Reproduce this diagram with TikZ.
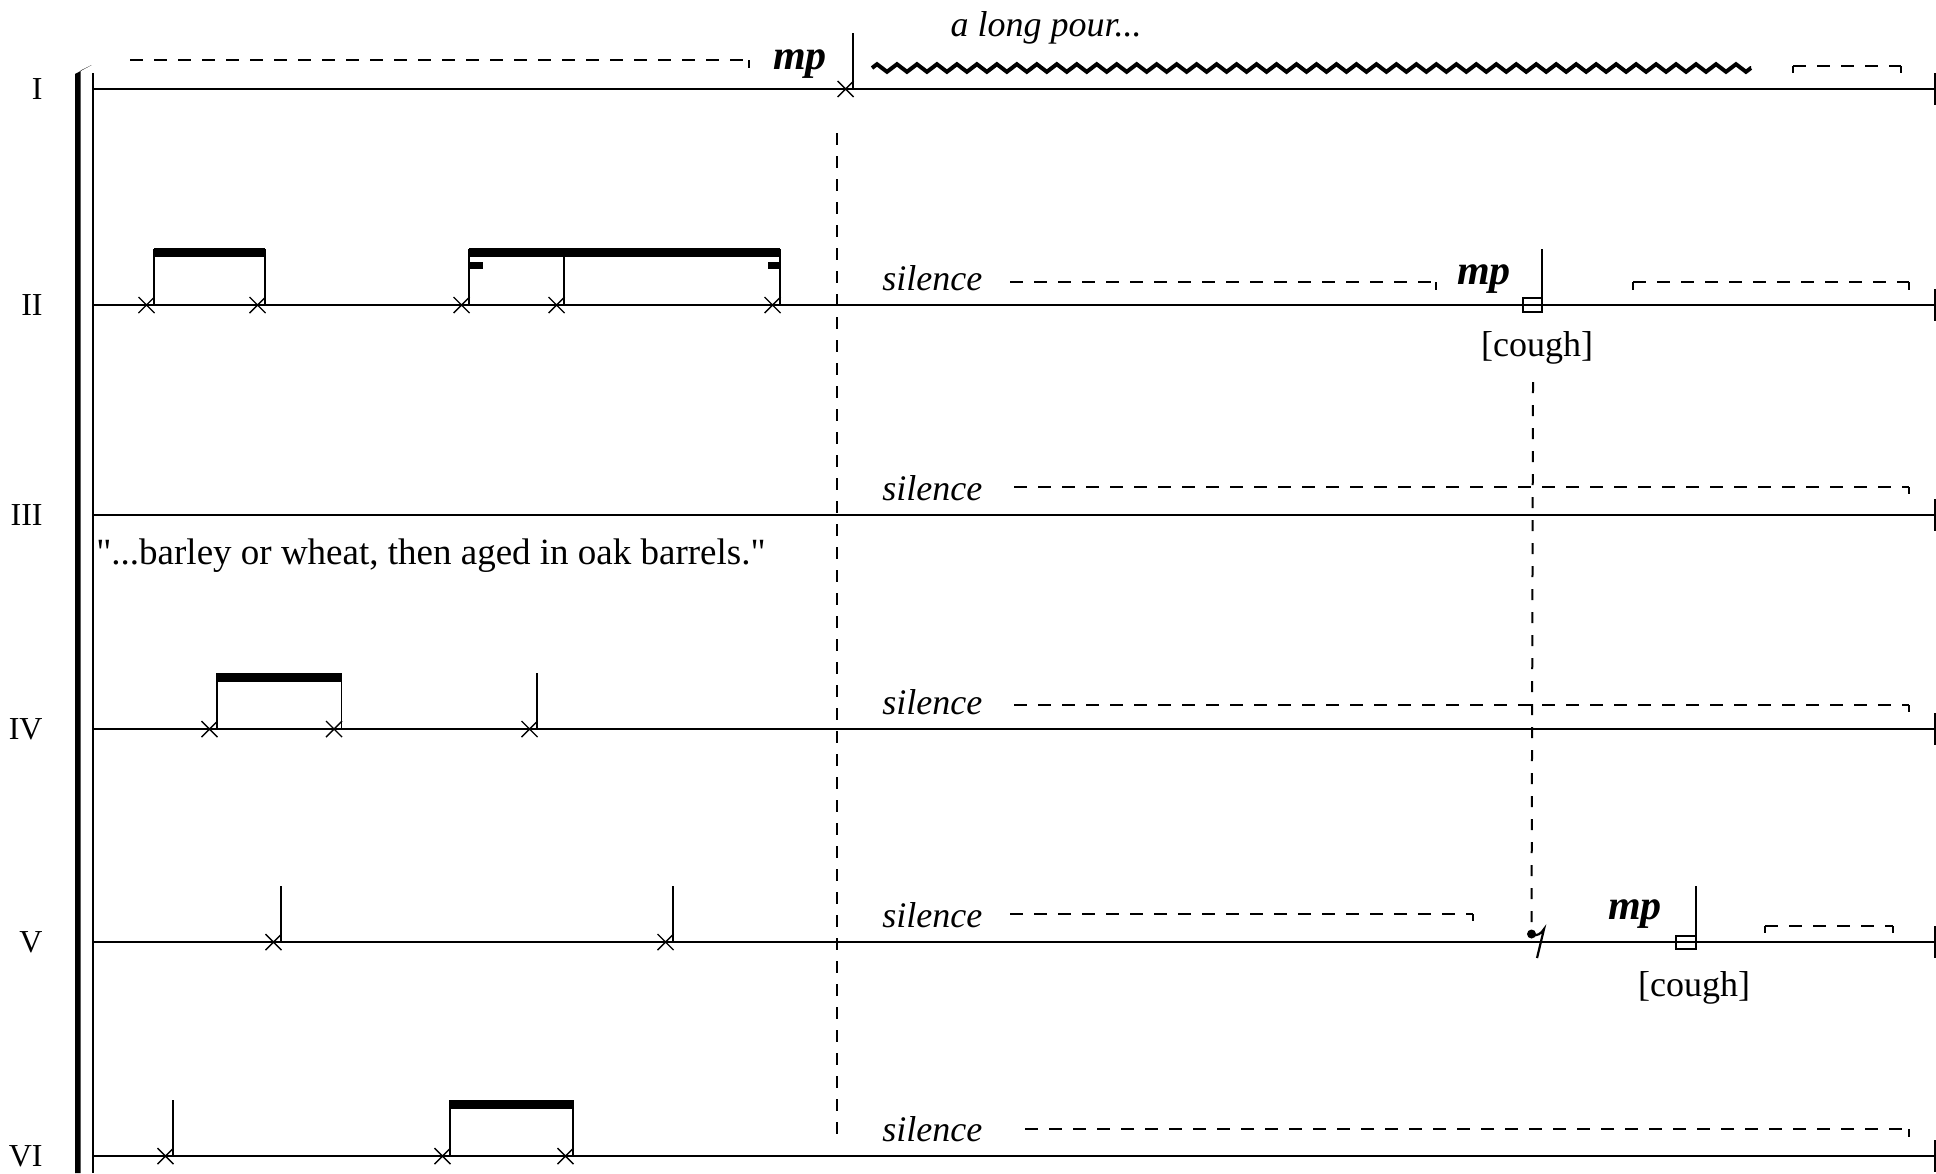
\documentclass[tikz,border=0pt]{standalone}
\usepackage{fontspec}
\setmainfont{Liberation Serif}
\usetikzlibrary{decorations.pathmorphing, calc}

\begin{document}
\begin{tikzpicture}[x=0.5pt, y=-0.5pt]

% Styles
\tikzstyle{staffline} = [line width=1.2pt]
\tikzstyle{stem} = [line width=0.9pt]
\tikzstyle{xhead} = [line width=0.7pt]
\tikzstyle{cue} = [line width=1.1pt, dash pattern=on 6.5pt off 5.5pt]
\tikzstyle{tick} = [line width=1.1pt]
\tikzstyle{syncline} = [line width=1.4pt, dash pattern=on 6pt off 5.5pt]
\tikzstyle{instr} = [anchor=base east, inner sep=0pt, font=\fontsize{16}{18}\selectfont]
\tikzstyle{direction} = [anchor=base west, inner sep=0pt, font=\fontsize{18}{20}\selectfont\itshape]
\tikzstyle{dyn} = [anchor=base, inner sep=0pt, font=\fontsize{21}{24}\selectfont\bfseries\itshape]
\tikzstyle{sound} = [anchor=base, inner sep=0pt, font=\fontsize{18}{20}\selectfont]

\useasboundingbox (0,0) rectangle (1936,1173);

% --- System bracket ---
\fill (75,1173) -- (75,74) -- (91.7,65) -- (80.7,70.5) -- (80.7,1173) -- cycle;
\draw[stem] (93,73) -- (93,1173);

% --- Staves ---
\foreach \rn/\y in {I/89, II/305, III/515, IV/729, V/942, VI/1156} {
  \draw[staffline] (93,\y) -- (1936,\y);
  \draw[tick] (1935,\y-16) -- (1935,\y+16);
  \node[instr] (lab\rn) at (43,\y+10.5) {\rn};
}

% --- Notes (stem x / staff y) ---
\foreach \s/\y in {853/89, 154/305, 265/305, 469/305, 564/305, 780/305,
                   217/729, 341.5/729, 537/729, 281/942, 673/942,
                   173/1156, 450/1156, 573/1156} {
  \draw[xhead] (\s-15.5,\y-8) -- (\s+0.5,\y+8) (\s-15.5,\y+8) -- (\s+0.5,\y-8);
  \draw[stem] (\s,\y) -- (\s,\y-56);
}

% Beams
\fill (153.6,248) rectangle (265.4,257);
\fill (468.6,248) rectangle (780.4,257);
\fill (468.6,262) rectangle (483,269);
\fill (768,262) rectangle (780.4,269);
\fill (216.6,673) rectangle (341.9,682);
\fill (449.6,1100) rectangle (573.4,1109);

% --- Staff I: the pour ---
\draw[cue] (130,60) -- (749,60);
\draw[tick] (749,60) -- (749,68);
\node[dyn] (mpI) at (800,69) {mp};
\node[direction, anchor=base] (pour) at (1046,36) {a long pour...};
\draw[line width=2pt, decorate, decoration={zigzag, segment length=9.988pt, amplitude=1.9pt}] (872,68) -- (1751,68);
\draw[cue] (1793,66) -- (1901,66);
\draw[tick] (1793,66) -- (1793,73) (1901,66) -- (1901,73);

% --- Cue line ---
\coordinate (cueTop) at (837,133);
\coordinate (cueBot) at (837,1134);
\draw[syncline] (cueTop) -- (cueBot);

% --- Silences ---
\node[direction] (silII) at (882,290) {silence};
\node[direction] (silIII) at (882,500) {silence};
\node[direction] (silIV) at (882,714) {silence};
\node[direction] (silV) at (882,927) {silence};
\node[direction] (silVI) at (882,1141) {silence};

\draw[cue] (1010,282) -- (1436,282);
\draw[tick] (1436,282) -- (1436,290);
\draw[cue] (1014,487) -- (1909,487);
\draw[tick] (1909,487) -- (1909,494);
\draw[cue] (1014,705) -- (1909,705);
\draw[tick] (1909,705) -- (1909,712);
\draw[cue] (1010,914) -- (1473,914);
\draw[tick] (1473,914) -- (1473,921);
\draw[cue] (1025,1129) -- (1909,1129);
\draw[tick] (1909,1129) -- (1909,1137);

% --- Staff II: cough ---
\node[dyn] (mpII) at (1484,284) {mp};
\draw[xhead] (1523,298) rectangle (1542,312);
\draw[stem] (1542,305) -- (1542,249);
\node[sound] (coughII) at (1537,356) {[cough]};
\draw[cue] (1633,282) -- (1909,282);
\draw[tick] (1633,282) -- (1633,290) (1909,282) -- (1909,290);

% --- Staff III: spoken text ---
\node[sound, anchor=base west, font=\fontsize{18.5}{20}\selectfont] (barley) at (96,564) {\textquotedbl...barley or wheat, then aged in oak barrels.\textquotedbl};

% --- Staff V: rest and cough ---
\coordinate (restV) at (1531.5,934);
\draw[line width=1pt, dash pattern=on 5.5pt off 6pt] (1533,382) -- (restV);
\fill (restV) circle (4.5);
\draw[line width=1.1pt] (1532,935) .. controls (1537,936) and (1541,934) .. (1544,929) -- (1537,958);
\node[dyn] (mpV) at (1635,919) {mp};
\draw[xhead] (1676,936) rectangle (1696,949);
\draw[stem] (1696,942) -- (1696,886);
\node[sound] (coughV) at (1694,996) {[cough]};
\draw[cue] (1765,926) -- (1893,926);
\draw[tick] (1765,926) -- (1765,933) (1893,926) -- (1893,933);

\end{tikzpicture}
\end{document}
